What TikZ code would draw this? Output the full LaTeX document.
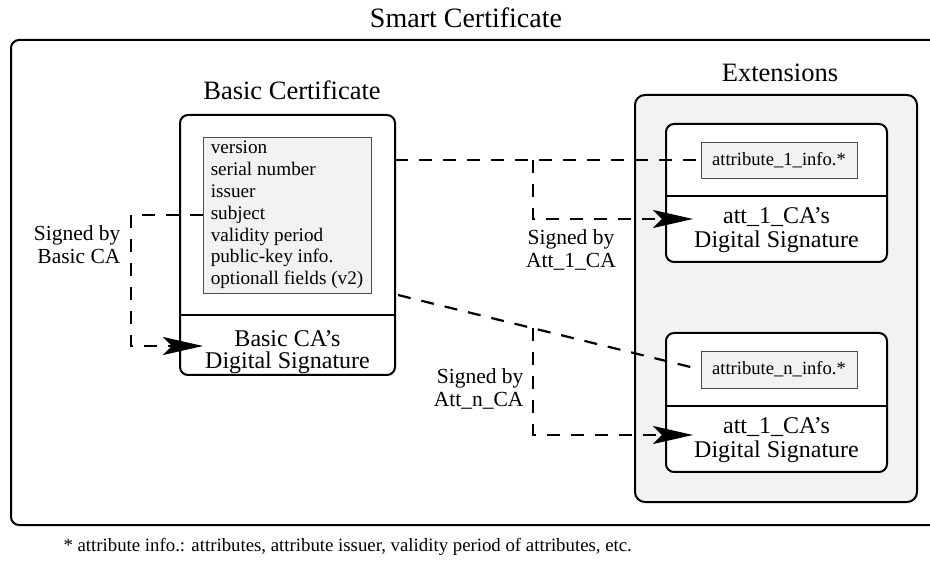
\documentclass[tikz,border=0pt]{standalone}
\usepackage{fontspec}
\setmainfont{Liberation Serif}
\usetikzlibrary{arrows.meta,calc}
\definecolor{boxgray}{RGB}{242,242,242}

\begin{document}
\begin{tikzpicture}[x=1pt,y=-1pt,
  frame/.style={draw,line width=2pt,rounded corners=8pt,outer sep=0pt},
  fieldbox/.style={draw=black!70,line width=0.8pt,fill=boxgray,inner sep=0pt},
  sig/.style={line width=2.2pt,dash pattern=on 13pt off 11pt},
  tip/.style={-{Stealth[length=40pt,width=18pt,inset=9pt]}},
  heading/.style={font=\fontsize{26.5}{28}\selectfont,anchor=base}
]
\useasboundingbox (0,0) rectangle (930,561);
\clip (0,0) rectangle (930,561);

% Smart certificate frame
\node[frame,minimum width=939,minimum height=485] (smart) at (480.5,282.5) {};
\node[anchor=base,font=\fontsize{28}{30}\selectfont] (smarttitle) at (466,28) {Smart Certificate};

% Basic certificate
\node[frame,minimum width=215,minimum height=260] (basic) at (287.5,245) {};
\node[heading] (basictitle) at (292,100) {Basic Certificate};
\draw[line width=2pt] ([yshift=60pt]basic.south west) -- ([yshift=60pt]basic.south east);
\node[fieldbox,minimum width=168,minimum height=156,align=left,
  font=\fontsize{19.2}{21.8}\selectfont] (fields) at (287,215)
  {version\\serial number\\issuer\\subject\\validity period\\public-key info.\\optionall fields (v2)};
\node[align=center,font=\fontsize{24}{22.5}\selectfont] (basicsig) at (287.5,352)
  {Basic CA's\\Digital Signature};

% Extensions
\node[frame,fill=boxgray,rounded corners=10pt,minimum width=282,minimum height=407] (ext) at (776,298.5) {};
\node[heading] (exttitle) at (780,82) {Extensions};

% Attribute 1
\node[frame,fill=white,minimum width=221,minimum height=138] (attA) at (776.5,193) {};
\draw[line width=2pt] ([yshift=66pt]attA.south west) -- ([yshift=66pt]attA.south east);
\node[fieldbox,minimum width=156,minimum height=36,font=\fontsize{18.6}{20}\selectfont] (attAinfo) at (779,160) {attribute\_1\_info.*};
\node[align=center,font=\fontsize{24}{24}\selectfont] (attAsig) at (776.5,230.5)
  {att\_1\_CA's\\Digital Signature};

% Attribute n
\node[frame,fill=white,minimum width=221,minimum height=139] (attN) at (776.5,402.5) {};
\draw[line width=2pt] ([yshift=66pt]attN.south west) -- ([yshift=66pt]attN.south east);
\node[fieldbox,minimum width=156,minimum height=37,font=\fontsize{18.6}{20}\selectfont] (attNinfo) at (779,369.5) {attribute\_n\_info.*};
\node[align=center,font=\fontsize{24}{24}\selectfont] (attNsig) at (776.5,440.5)
  {att\_1\_CA's\\Digital Signature};

% Signing links
\coordinate (basictip) at (203,346);
\draw[sig,tip] (fields.west) -- ++(-72,0) |- (basictip);
\node[anchor=east,align=right,font=\fontsize{21.5}{23}\selectfont] (basicca) at (124,245) {Signed by\\Basic CA};

\coordinate (attAfrom) at (basic.east |- attAinfo.west);
\coordinate (attAfork) at (533,160);
\coordinate (attAtip) at (693,219);
\draw[sig] (attAfrom) -- (attAinfo.west);
\draw[sig,tip] (attAfork) |- (attAtip);
\node[align=center,font=\fontsize{21.5}{23}\selectfont] (attAca) at (571,250) {Signed by\\Att\_1\_CA};

\coordinate (attNfrom) at (398,295);
\coordinate (attNfork) at ($(attNfrom)!0.447!(attNinfo.west)$);
\coordinate (attNtip) at (693,435);
\draw[sig] (attNfrom) -- (attNinfo.west);
\draw[sig,tip] (attNfork) |- (attNtip);
\node[anchor=east,align=right,font=\fontsize{21.5}{23}\selectfont] (attNca) at (527,389) {Signed by\\Att\_n\_CA};

% Footnote
\node[anchor=base west,font=\fontsize{18.8}{20}\selectfont] (note) at (60,551)
  {* attribute info.: attributes, attribute issuer, validity period of attributes, etc.};

\end{tikzpicture}
\end{document}
